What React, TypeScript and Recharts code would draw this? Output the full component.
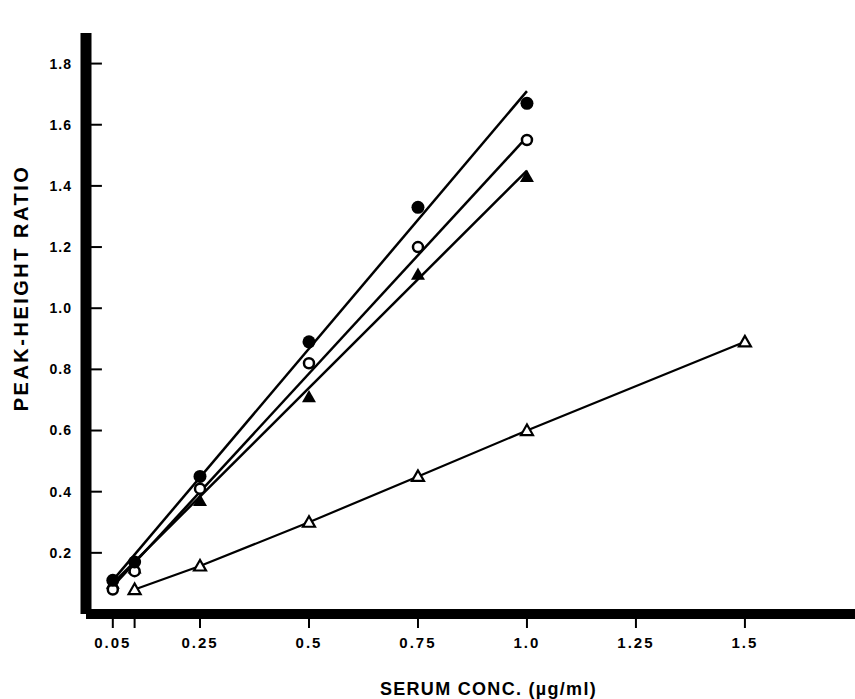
import { ComposedChart, Scatter, XAxis, YAxis, ReferenceLine, Label } from "recharts";

// concentrations (µg/ml) and peak-height ratios
const filledCircle = [
  { x: 0.05, y: 0.11 },
  { x: 0.1, y: 0.17 },
  { x: 0.25, y: 0.45 },
  { x: 0.5, y: 0.89 },
  { x: 0.75, y: 1.33 },
  { x: 1.0, y: 1.67 },
];
const openCircle = [
  { x: 0.05, y: 0.08 },
  { x: 0.1, y: 0.14 },
  { x: 0.25, y: 0.41 },
  { x: 0.5, y: 0.82 },
  { x: 0.75, y: 1.2 },
  { x: 1.0, y: 1.55 },
];
const filledTriangle = [
  { x: 0.05, y: 0.1 },
  { x: 0.1, y: 0.15 },
  { x: 0.25, y: 0.37 },
  { x: 0.5, y: 0.71 },
  { x: 0.75, y: 1.11 },
  { x: 1.0, y: 1.43 },
];
const openTriangle = [
  { x: 0.1, y: 0.08 },
  { x: 0.25, y: 0.157 },
  { x: 0.5, y: 0.3 },
  { x: 0.75, y: 0.45 },
  { x: 1.0, y: 0.6 },
  { x: 1.5, y: 0.89 },
];

// fitted lines (end points)
const fitFilledCircle = [
  { x: 0.05, y: 0.11 },
  { x: 1.0, y: 1.71 },
];
const fitOpenCircle = [
  { x: 0.05, y: 0.09 },
  { x: 1.0, y: 1.56 },
];
const fitFilledTriangle = [
  { x: 0.05, y: 0.1 },
  { x: 1.0, y: 1.45 },
];

const xTicks = [0.05, 0.1, 0.25, 0.5, 0.75, 1.0, 1.25, 1.5];
const xTickLabels = ["0.05", "", "0.25", "0.5", "0.75", "1.0", "1.25", "1.5"];
const yTicks = [0.2, 0.4, 0.6, 0.8, 1.0, 1.2, 1.4, 1.6, 1.8];

const FONT = "'Liberation Sans', Arial, sans-serif";
const INK = "#000";

const noDot = () => <g />;

const DotFilled = (p: any) => <circle cx={p.cx} cy={p.cy} r={6.5} fill={INK} />;
const DotOpen = (p: any) => (
  <circle cx={p.cx} cy={p.cy} r={5} fill="#fff" stroke={INK} strokeWidth={2.5} />
);
const TriFilled = (p: any) => {
  const s = 7;
  return (
    <polygon
      points={`${p.cx},${p.cy - s} ${p.cx - s},${p.cy + s * 0.75} ${p.cx + s},${p.cy + s * 0.75}`}
      fill={INK}
    />
  );
};
const TriOpen = (p: any) => {
  const s = 6;
  return (
    <polygon
      points={`${p.cx},${p.cy - s} ${p.cx - s},${p.cy + s * 0.75} ${p.cx + s},${p.cy + s * 0.75}`}
      fill="#fff"
      stroke={INK}
      strokeWidth={2.2}
      strokeLinejoin="miter"
    />
  );
};

const lineStyle = { stroke: INK, strokeWidth: 2.5 };

export default function App() {
  return (
    <div style={{ position: "absolute", left: 0, top: 0, background: "#fff" }}>
      <ComposedChart
        width={855}
        height={699}
        margin={{ top: 33, right: 0, bottom: 0, left: 0 }}
      >
        <XAxis
          type="number"
          dataKey="x"
          domain={[-0.0115, 1.7525]}
          ticks={xTicks}
          interval={0}
          minTickGap={0}
          tickFormatter={(v: number) => xTickLabels[xTicks.indexOf(v)] ?? ""}
          allowDataOverflow
          height={85}
          axisLine={{ stroke: INK, strokeWidth: 10 }}
          tickLine={{ stroke: INK, strokeWidth: 2 }}
          tickSize={14}
          tickMargin={9}
          tick={{ fill: INK, fontFamily: FONT, fontWeight: 700, fontSize: 15, letterSpacing: 2 }}
        >
          <Label
            content={(props: any) => {
              const vb = props.viewBox;
              return (
                <text
                  x={vb.x + vb.width / 2 + 18}
                  y={695}
                  textAnchor="middle"
                  fontFamily={FONT}
                  fontWeight={700}
                  fontSize={18}
                  letterSpacing={1.3}
                  fill={INK}
                >
                  SERUM CONC. (µg/ml)
                </text>
              );
            }}
          />
        </XAxis>
        <YAxis
          type="number"
          dataKey="y"
          domain={[0, 1.9]}
          ticks={yTicks}
          interval={0}
          tickFormatter={(v: number) => v.toFixed(1)}
          allowDataOverflow
          width={86}
          axisLine={{ stroke: INK, strokeWidth: 11 }}
          tickLine={false}
          tickSize={0}
          tickMargin={14}
          tick={{ fill: INK, fontFamily: FONT, fontWeight: 700, fontSize: 14, letterSpacing: 1 }}
        >
          <Label
            content={() => {
              const cy = 288;
              return (
                <text
                  x={21}
                  y={cy}
                  transform={`rotate(-90, 21, ${cy})`}
                  textAnchor="middle"
                  dominantBaseline="central"
                  fontFamily={FONT}
                  fontWeight={700}
                  fontSize={20}
                  letterSpacing={2.5}
                  fill={INK}
                >
                  PEAK-HEIGHT RATIO
                </text>
              );
            }}
          />
        </YAxis>

        {yTicks.map((v) => (
          <ReferenceLine
            key={v}
            segment={[
              { x: 0, y: v },
              { x: 0.025, y: v },
            ]}
            stroke={INK}
            strokeWidth={2}
          />
        ))}

        <Scatter data={fitFilledCircle} line={lineStyle} shape={noDot} isAnimationActive={false} />
        <Scatter data={fitOpenCircle} line={lineStyle} shape={noDot} isAnimationActive={false} />
        <Scatter data={fitFilledTriangle} line={lineStyle} shape={noDot} isAnimationActive={false} />
        <Scatter
          data={openTriangle}
          line={{ stroke: INK, strokeWidth: 2.2 }}
          shape={TriOpen}
          isAnimationActive={false}
        />
        <Scatter data={filledTriangle} shape={TriFilled} isAnimationActive={false} />
        <Scatter data={openCircle} shape={DotOpen} isAnimationActive={false} />
        <Scatter data={filledCircle} shape={DotFilled} isAnimationActive={false} />
      </ComposedChart>
    </div>
  );
}
